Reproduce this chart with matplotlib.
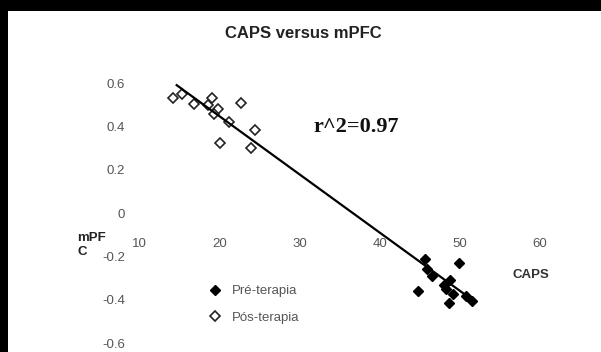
import matplotlib.pyplot as plt
from matplotlib.patches import Rectangle

plt.rcParams["font.family"] = ["Liberation Sans", "DejaVu Sans"]

# Pós-terapia (open diamonds)
pos_caps = [14.3, 15.4, 16.9, 19.1, 18.6, 19.85, 19.3, 21.2, 22.7, 24.5, 20.1, 24.0]
pos_mpfc = [0.529, 0.549, 0.504, 0.533, 0.498, 0.482, 0.457, 0.418, 0.510, 0.383, 0.323, 0.300]

# Pré-terapia (filled diamonds)
pre_caps = [45.7, 49.9, 46.5, 48.8, 44.8, 48.0, 48.3, 49.2, 48.7, 50.8, 51.5, 45.9]
pre_mpfc = [-0.212, -0.231, -0.293, -0.307, -0.360, -0.332, -0.351, -0.374, -0.415, -0.383, -0.408, -0.258]

# trend line ends
fit_caps = [14.7, 51.9]
fit_mpfc = [0.59, -0.41]

x_ticks = [10, 20, 30, 40, 50, 60]
y_ticks = [-0.6, -0.4, -0.2, 0, 0.2, 0.4, 0.6]
y_labels = ["-0.6", "-0.4", "-0.2", "0", "0.2", "0.4", "0.6"]

W, H = 601, 352
fig = plt.figure(figsize=(W / 100, H / 100), dpi=100)
fig.patch.set_facecolor("white")

# black border from the scan (top and left)
fig.patches.append(Rectangle((0, 1 - 11 / H), 1, 11 / H, transform=fig.transFigure,
                             facecolor="black", edgecolor="none"))
fig.patches.append(Rectangle((0, 0), 8 / W, 1, transform=fig.transFigure,
                             facecolor="black", edgecolor="none"))

ax = fig.add_axes([139 / W, 1 - 343 / H, 401 / W, 260 / H])
ax.set_xlim(10, 60)
ax.set_ylim(-0.6, 0.6)

ax.plot(pre_caps, pre_mpfc, "D", color="black", markersize=5, linestyle="none",
        label="Pré-terapia", zorder=2)
ax.plot(pos_caps, pos_mpfc, "D", markerfacecolor="white", markeredgecolor="#222222",
        markeredgewidth=1.2, markersize=4.8, linestyle="none", label="Pós-terapia", zorder=2)
ax.plot(fit_caps, fit_mpfc, color="black", linewidth=1.6, zorder=3)

for s in ["top", "right", "left", "bottom"]:
    ax.spines[s].set_visible(False)
ax.spines["bottom"].set_position(("data", 0))

ax.set_xticks(x_ticks)
ax.set_yticks(y_ticks)
ax.set_yticklabels(y_labels)
ax.tick_params(axis="both", length=0, labelsize=9.5, labelcolor="#555555")
ax.tick_params(axis="x", pad=18)
ax.tick_params(axis="y", pad=10)

ax.text(31.8, 0.397, "r^2=0.97", family="Liberation Serif", fontweight="bold",
        fontsize=16, va="center", ha="left", color="#111111")

fig.text(303 / W, 1 - 33 / H, "CAPS versus mPFC", ha="center", va="center",
         fontsize=12, fontweight="bold", color="#222222")
fig.text(531 / W, 1 - 275 / H, "CAPS", ha="center", va="center",
         fontsize=9.5, fontweight="bold", color="#333333")
fig.text(77 / W, 1 - 245 / H, "mPF\nC", ha="left", va="center",
         fontsize=9.5, fontweight="bold", color="#222222", linespacing=1.2)

fig.legend(loc="upper left", bbox_to_anchor=(208 / W, 1 - 285 / H), frameon=False,
           fontsize=9.5, labelcolor="#555555", handlelength=1.0, handletextpad=0.8,
           labelspacing=1.1, borderpad=0, borderaxespad=0)

fig.savefig("out.png", dpi=100)
